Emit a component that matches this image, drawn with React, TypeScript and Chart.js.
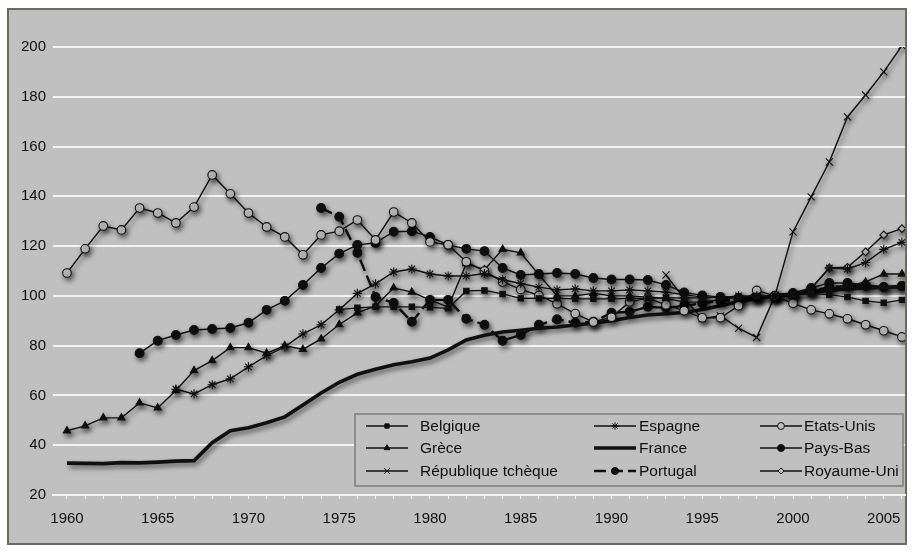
import React, { useEffect, useRef } from 'react';
import { Chart, registerables } from 'chart.js';
import { drawPoint } from 'chart.js/helpers';

Chart.register(...registerables);

const years = [
  1960, 1961, 1962, 1963, 1964, 1965, 1966, 1967, 1968, 1969,
  1970, 1971, 1972, 1973, 1974, 1975, 1976, 1977, 1978, 1979,
  1980, 1981, 1982, 1983, 1984, 1985, 1986, 1987, 1988, 1989,
  1990, 1991, 1992, 1993, 1994, 1995, 1996, 1997, 1998, 1999,
  2000, 2001, 2002, 2003, 2004, 2005, 2006,
];

const yTicks = [20, 40, 60, 80, 100, 120, 140, 160, 180, 200];
const xLabelYears = [1960, 1965, 1970, 1975, 1980, 1985, 1990, 1995, 2000, 2005];

const belgique = [
  null, null, null, null, null, null, null, null, null, null,
  null, null, null, null, null, 94.5, 95.2, 95.6, 95.6, 95.6,
  95.4, 95, 102, 102.2, 100.8, 99, 99, 99, 98.8, 98.8,
  98.8, 99, 99, 99.2, 99.2, 99.2, 99.5, 99.5, 100, 100,
  100.5, 101, 100.5, 99.5, 98, 97.2, 98.4,
];

const espagne = [
  null, null, null, null, null, null, 62.5, 60.6, 64.3, 66.7,
  71.5, 76, 79.5, 84.7, 88.4, 94.4, 101, 104.8, 109.6, 110.8,
  108.8, 108, 108, 109, 106.5, 105, 103.5, 102.4, 102.8, 102,
  102, 102.4, 102, 101.5, 100.5, 99.5, 99.5, 100, 100, 100,
  100.5, 103, 111.2, 110.8, 113.4, 118.7, 121.5,
];

const etatsUnis = [
  109.2, 118.9, 128.1, 126.5, 135.3, 133.3, 129.3, 135.7, 148.6, 141,
  133.3, 127.7, 123.7, 116.5, 124.5, 126, 130.5, 122.5, 133.7, 129.3,
  121.7, 120.5, 113.7, 110, 105.6, 102.6, 100.2, 96.8, 92.9, 89.5,
  91.4, 97.6, 99.1, 96.4, 94, 91.2, 91.2, 96, 102.2, 100,
  97, 94.4, 92.8, 90.8, 88.4, 86, 83.5,
];

const grece = [
  45.8, 47.8, 51, 51, 57, 55, 62, 70, 74, 79.2,
  79.2, 77, 80, 78.5, 82.7, 88.5, 93.2, 96, 103.2, 101.5,
  98.4, 95.5, 113, 110.5, 118.7, 117.3, 108.5, 100, 100, 101,
  100, 100, 99.5, 99, 97.5, 97.5, 98.5, 99.5, 99.5, 100,
  101, 102, 103, 104, 105.6, 108.8, 108.8,
];

const france = [
  32.8, 32.7, 32.6, 33, 32.9, 33.2, 33.6, 33.8, 41, 45.8,
  47, 49, 51.4, 56.2, 61, 65.3, 68.5, 70.5, 72.3, 73.5,
  75, 78.3, 82.3, 84.2, 85.5, 86.2, 87, 87.5, 88.3, 89,
  90, 91.3, 92.3, 92.8, 93.3, 94.5, 96, 97.6, 99, 100,
  100.8, 101.5, 102.2, 102.8, 103.2, 103.4, 103.6,
];

const paysBas = [
  null, null, null, null, 77, 82, 84.3, 86.3, 86.7, 87.1,
  89.2, 94.4, 98, 104.4, 111.2, 117, 120.5, 121.3, 125.8, 126,
  123.7, 120.5, 118.9, 118, 111.2, 108.4, 108.8, 109.2, 108.8, 107.2,
  106.6, 106.6, 106.4, 104.4, 101.4, 100.2, 99.6, 99.2, 99.5, 100,
  101.2, 103.2, 105.2, 105.2, 104.4, 103.6, 104,
];

const tcheque = [
  null, null, null, null, null, null, null, null, null, null,
  null, null, null, null, null, null, null, null, null, null,
  null, null, null, null, null, null, null, null, null, null,
  null, null, null, 108.4, 99, 90.8, 92, 87, 83.3, 100,
  125.7, 139.8, 153.8, 171.9, 180.7, 190, 200.5,
];

const portugal = [
  null, null, null, null, null, null, null, null, null, null,
  null, null, null, null, 135.3, 131.8, 117.3, 99.6, 97.2, 89.6,
  98.4, 98.4, 90.8, 88.4, 82, 84.3, 88.4, 90.6, 89.2, 89.6,
  93.2, 93.6, 95.6, 95.2, 96, 97, 98, 98.5, 99.5, 100,
  100.5, 102, 103.5, 104, 104, 103.5, 104,
];

const royaumeUni = [
  null, null, null, null, null, null, null, null, null, null,
  null, null, null, null, null, null, null, null, null, null,
  null, null, null, null, null, null, null, null, null, null,
  null, null, null, null, null, null, null, null, null, 100,
  99.5, 103, 111.2, 111.5, 117.7, 124.5, 127,
];

const INK = '#101010';
const BG = '#c0c0c0';
const GRID = '#f3f3f3';
const FONT = '"Liberation Sans", Arial, sans-serif';

type SeriesDef = {
  label: string;
  values: (number | null)[];
  pointStyle: any;
  radius: number;
  fill: string;
  width: number;
  dash?: number[];
};

const series: SeriesDef[] = [
  { label: 'Belgique', values: belgique, pointStyle: 'rect', radius: 3.8, fill: INK, width: 1.4 },
  { label: 'Espagne', values: espagne, pointStyle: 'star', radius: 4.6, fill: INK, width: 1.4 },
  { label: 'Etats-Unis', values: etatsUnis, pointStyle: 'circle', radius: 4.3, fill: BG, width: 1.4 },
  { label: 'Grèce', values: grece, pointStyle: 'triangle', radius: 4.2, fill: INK, width: 1.4 },
  { label: 'France', values: france, pointStyle: false, radius: 0, fill: INK, width: 3.6 },
  { label: 'Pays-Bas', values: paysBas, pointStyle: 'circle', radius: 4.4, fill: INK, width: 1.4 },
  { label: 'République tchèque', values: tcheque, pointStyle: 'crossRot', radius: 5, fill: INK, width: 1.4 },
  { label: 'Portugal', values: portugal, pointStyle: 'circle', radius: 4.4, fill: INK, width: 2.4, dash: [12, 5] },
  { label: 'Royaume-Uni', values: royaumeUni, pointStyle: 'rectRot', radius: 3.8, fill: BG, width: 1.4 },
];

const frameAndBackground = {
  id: 'frameAndBackground',
  beforeDraw(chart: any) {
    const ctx = chart.ctx;
    ctx.save();
    ctx.fillStyle = '#ffffff';
    ctx.fillRect(0, 0, chart.width, chart.height);
    ctx.fillStyle = BG;
    ctx.fillRect(8, 9, 898, 535);
    ctx.strokeStyle = '#6a6a60';
    ctx.lineWidth = 2;
    ctx.strokeRect(8, 9, 898, 535);
    ctx.restore();
  },
};

const shadow = {
  id: 'shadow',
  beforeDatasetsDraw(chart: any) {
    const ctx = chart.ctx;
    ctx.save();
    ctx.shadowColor = 'rgba(0,0,0,0.55)';
    ctx.shadowBlur = 5;
    ctx.shadowOffsetX = 2;
    ctx.shadowOffsetY = 3;
  },
  afterDatasetsDraw(chart: any) {
    chart.ctx.restore();
  },
};

const legendBox = {
  id: 'legendBox',
  afterDraw(chart: any) {
    const ctx = chart.ctx;
    ctx.save();
    ctx.fillStyle = BG;
    ctx.fillRect(355, 414, 548, 72);
    ctx.strokeStyle = '#7c7c7c';
    ctx.lineWidth = 1.5;
    ctx.strokeRect(355, 414, 548, 72);
    const cols = [
      { x1: 366, x2: 408, tx: 420 },
      { x1: 594, x2: 636, tx: 639 },
      { x1: 760, x2: 802, tx: 804 },
    ];
    const rows = [426, 448, 471];
    series.forEach((s, i) => {
      const c = cols[i % 3];
      const y = rows[Math.floor(i / 3)];
      ctx.save();
      ctx.strokeStyle = INK;
      ctx.lineWidth = s.width;
      ctx.setLineDash(s.dash || []);
      ctx.beginPath();
      ctx.moveTo(c.x1, y);
      ctx.lineTo(c.x2, y);
      ctx.stroke();
      ctx.setLineDash([]);
      if (s.pointStyle) {
        ctx.fillStyle = s.fill;
        ctx.strokeStyle = INK;
        ctx.lineWidth = 1;
        drawPoint(ctx, { pointStyle: s.pointStyle, radius: s.radius * 0.8, rotation: 0, borderWidth: 1 } as any, (c.x1 + c.x2) / 2, y);
      }
      ctx.restore();
      ctx.fillStyle = INK;
      ctx.font = '15.5px ' + FONT;
      ctx.textBaseline = 'middle';
      ctx.textAlign = 'left';
      ctx.fillText(s.label, c.tx, y + 1);
    });
    ctx.restore();
  },
};

export default function App() {
  const ref = useRef<HTMLCanvasElement>(null);
  useEffect(() => {
    const datasets = series.map((s) => ({
      label: s.label,
      data: years.map((yr, i) => ({ x: yr, y: s.values[i] })),
      borderColor: INK,
      backgroundColor: s.fill,
      borderWidth: s.width,
      borderDash: s.dash || [],
      pointStyle: s.pointStyle,
      pointRadius: s.radius,
      pointBorderColor: INK,
      pointBackgroundColor: s.fill,
      pointBorderWidth: 1.1,
      pointHoverRadius: s.radius,
      tension: 0,
      spanGaps: false,
      fill: false,
    }));
    const chart = new Chart(ref.current as HTMLCanvasElement, {
      type: 'line',
      data: { datasets } as any,
      options: {
        responsive: false,
        animation: false,
        devicePixelRatio: 1,
        layout: { padding: { left: 0, top: 47, right: 8, bottom: 0 } },
        plugins: {
          legend: { display: false },
          tooltip: { enabled: false },
        },
        scales: {
          x: {
            type: 'linear',
            min: 1959.23,
            max: 2006.17,
            afterBuildTicks: (scale: any) => {
              scale.ticks = years.map((v) => ({ value: v }));
            },
            afterFit: (scale: any) => {
              scale.height = 56;
            },
            grid: { drawOnChartArea: false, drawTicks: true, tickLength: 4, color: GRID, lineWidth: 1 },
            border: { display: true, color: GRID, width: 2 },
            ticks: {
              autoSkip: false,
              maxRotation: 0,
              padding: 11,
              color: INK,
              font: { family: FONT, size: 15 },
              callback: (v: any) => (xLabelYears.includes(Number(v)) ? String(v) : ''),
            },
          },
          y: {
            type: 'linear',
            min: 20,
            max: 200,
            afterBuildTicks: (scale: any) => {
              scale.ticks = yTicks.map((v) => ({ value: v }));
            },
            afterFit: (scale: any) => {
              scale.width = 53;
            },
            grid: { color: GRID, lineWidth: 2, drawTicks: false },
            border: { display: false },
            ticks: {
              padding: 7,
              color: INK,
              font: { family: FONT, size: 15 },
            },
          },
        },
      } as any,
      plugins: [frameAndBackground, shadow, legendBox],
    });
    return () => chart.destroy();
  }, []);
  return (
    <div style={{ position: 'fixed', left: 0, top: 0, width: 913, height: 551, background: '#fff' }}>
      <canvas ref={ref} width={913} height={551} style={{ display: 'block', width: 913, height: 551 }} />
    </div>
  );
}
